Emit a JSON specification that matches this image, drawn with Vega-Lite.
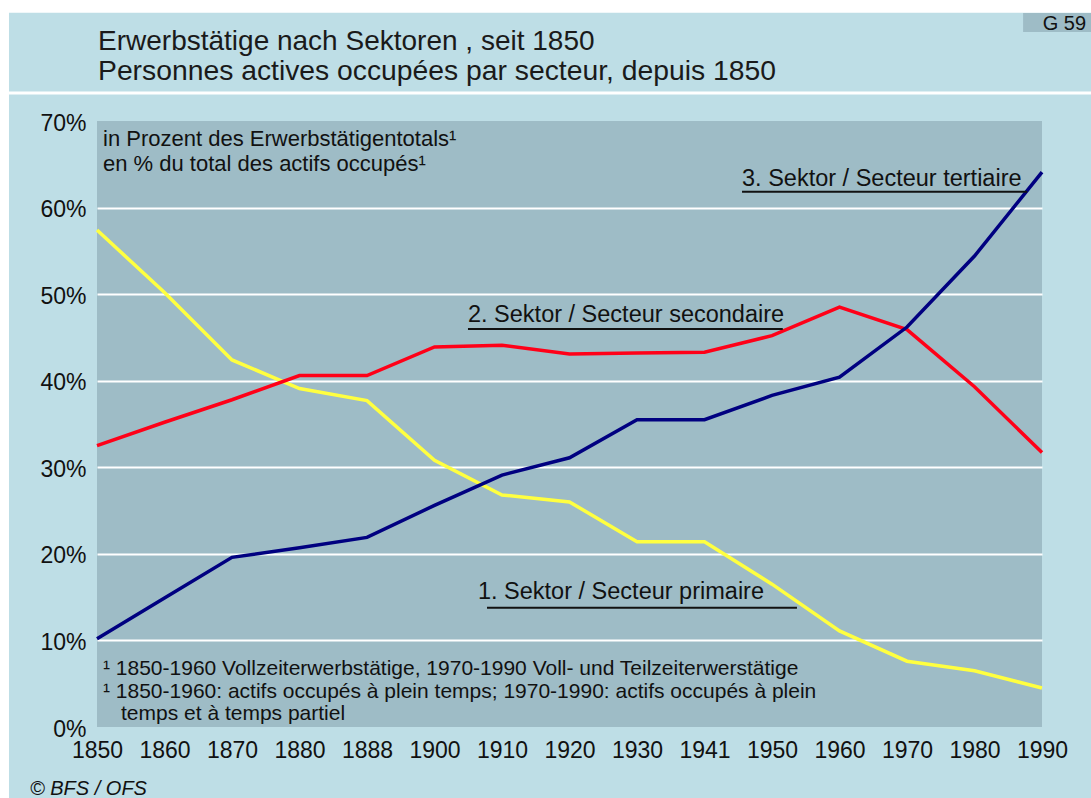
{
  "$schema": "https://vega.github.io/schema/vega-lite/v6.json",
  "autosize": "none",
  "width": 945,
  "height": 606,
  "padding": {"left": 97, "top": 121, "right": 49, "bottom": 71},
  "background": "#bedee6",
  "config": {
    "view": {"stroke": null, "fill": "#9ebcc6"},
    "font": "Liberation Sans"
  },
  "datasets": {
    "shares": [
      {"year": 1850, "primary": 57.4, "secondary": 32.5, "tertiary": 10.2},
      {"year": 1860, "primary": 50.2, "secondary": 35.2, "tertiary": 14.9},
      {"year": 1870, "primary": 42.4, "secondary": 37.8, "tertiary": 19.6},
      {"year": 1880, "primary": 39.1, "secondary": 40.6, "tertiary": 20.7},
      {"year": 1888, "primary": 37.7, "secondary": 40.6, "tertiary": 21.9},
      {"year": 1900, "primary": 30.8, "secondary": 43.9, "tertiary": 25.6},
      {"year": 1910, "primary": 26.8, "secondary": 44.1, "tertiary": 29.1},
      {"year": 1920, "primary": 26.0, "secondary": 43.1, "tertiary": 31.1},
      {"year": 1930, "primary": 21.4, "secondary": 43.2, "tertiary": 35.5},
      {"year": 1941, "primary": 21.4, "secondary": 43.3, "tertiary": 35.5},
      {"year": 1950, "primary": 16.5, "secondary": 45.2, "tertiary": 38.3},
      {"year": 1960, "primary": 11.1, "secondary": 48.5, "tertiary": 40.4},
      {"year": 1970, "primary": 7.6, "secondary": 45.9, "tertiary": 46.2},
      {"year": 1980, "primary": 6.5, "secondary": 39.3, "tertiary": 54.4},
      {"year": 1990, "primary": 4.5, "secondary": 31.7, "tertiary": 64.1}
    ],
    "one": [{}]
  },
  "layer": [
    {
      "data": {"name": "one"},
      "mark": {"type": "rect", "color": "#ffffff"},
      "encoding": {
        "x": {"datum": -0.6, "type": "quantitative"},
        "x2": {"datum": 15.9},
        "y": {"datum": 82.5, "type": "quantitative"},
        "y2": {"datum": 85}
      }
    },
    {
      "data": {"name": "one"},
      "mark": {"type": "rect", "color": "#ffffff"},
      "encoding": {
        "x": {"datum": -0.6, "type": "quantitative"},
        "x2": {"datum": -0.304},
        "y": {"datum": -10, "type": "quantitative"},
        "y2": {"datum": 85}
      }
    },
    {
      "data": {"name": "one"},
      "mark": {"type": "rule", "color": "#ffffff", "strokeWidth": 3},
      "encoding": {
        "x": {"datum": -0.304, "type": "quantitative"},
        "x2": {"datum": 15.9},
        "y": {"datum": 73.24, "type": "quantitative"}
      }
    },
    {
      "data": {"name": "one"},
      "mark": {"type": "rect", "color": "#9ebcc6"},
      "encoding": {
        "x": {"datum": 14.72, "type": "quantitative"},
        "x2": {"datum": 15.9},
        "y": {"datum": 80.28, "type": "quantitative"},
        "y2": {"datum": 82.48}
      }
    },
    {
      "data": {"name": "one"},
      "mark": {"type": "text", "text": "G 59", "align": "left", "baseline": "alphabetic", "fontSize": 20, "color": "#111111"},
      "encoding": {
        "x": {"datum": 15.01, "type": "quantitative"},
        "y": {"datum": 80.55, "type": "quantitative"}
      }
    },
    {
      "data": {"name": "one"},
      "mark": {"type": "text", "text": "Erwerbstätige nach Sektoren , seit 1850", "align": "left", "baseline": "alphabetic", "fontSize": 28, "color": "#1a1a1a"},
      "encoding": {
        "x": {"datum": 1.015, "type": "quantitative"},
        "y": {"datum": 78.2, "type": "quantitative"}
      }
    },
    {
      "data": {"name": "one"},
      "mark": {"type": "text", "text": "Personnes actives occupées par secteur, depuis 1850", "align": "left", "baseline": "alphabetic", "fontSize": 28.3, "color": "#1a1a1a"},
      "encoding": {
        "x": {"datum": 1.015, "type": "quantitative"},
        "y": {"datum": 74.74, "type": "quantitative"}
      }
    },
    {
      "data": {"name": "shares"},
      "transform": [
        {"window": [{"op": "row_number", "as": "pos"}], "sort": [{"field": "year"}]},
        {"fold": ["primary", "secondary", "tertiary"], "as": ["sector", "share"]}
      ],
      "mark": {"type": "line", "strokeWidth": 3.5, "clip": false},
      "encoding": {
        "x": {
          "field": "pos",
          "type": "quantitative",
          "scale": {"domain": [1, 15], "nice": false, "zero": false},
          "axis": {
            "values": [1,2,3,4,5,6,7,8,9,10,11,12,13,14,15],
            "labelExpr": "['1850','1860','1870','1880','1888','1900','1910','1920','1930','1941','1950','1960','1970','1980','1990'][datum.value - 1]",
            "title": null,
            "grid": false,
            "domain": false,
            "ticks": false,
            "labelFont": "Liberation Sans",
            "labelFontSize": 23,
            "labelColor": "#111111",
            "labelPadding": 12,
            "labelFlush": false,
            "labelOverlap": false
          }
        },
        "y": {
          "field": "share",
          "type": "quantitative",
          "scale": {"domain": [0, 70], "nice": false, "zero": true},
          "axis": {
            "values": [0,10,20,30,40,50,60,70],
            "labelExpr": "datum.value + '%'",
            "title": null,
            "domain": false,
            "ticks": false,
            "grid": true,
            "gridColor": {"condition": {"test": "datum.value === 0 || datum.value === 70", "value": "transparent"}, "value": "#ffffff"},
            "gridWidth": 2,
            "labelFont": "Liberation Sans",
            "labelFontSize": 23,
            "labelColor": "#111111",
            "labelPadding": 11,
            "labelOffset": 2,
            "labelFlush": false,
            "labelOverlap": false
          }
        },
        "color": {
          "field": "sector",
          "type": "nominal",
          "scale": {"domain": ["primary", "secondary", "tertiary"], "range": ["#ffff40", "#ff0018", "#000080"]},
          "legend": null
        }
      }
    },
    {
      "data": {"name": "one"},
      "mark": {"type": "text", "text": "3. Sektor / Secteur tertiaire", "align": "left", "baseline": "alphabetic", "fontSize": 23.5, "color": "#111111"},
      "encoding": {"x": {"datum": 10.556, "type": "quantitative"}, "y": {"datum": 62.49, "type": "quantitative"}}
    },
    {
      "data": {"name": "one"},
      "mark": {"type": "rule", "color": "#111111", "strokeWidth": 2},
      "encoding": {"x": {"datum": 10.556, "type": "quantitative"}, "x2": {"datum": 14.78}, "y": {"datum": 61.84, "type": "quantitative"}}
    },
    {
      "data": {"name": "one"},
      "mark": {"type": "text", "text": "2. Sektor / Secteur secondaire", "align": "left", "baseline": "alphabetic", "fontSize": 23.5, "color": "#111111"},
      "encoding": {"x": {"datum": 6.496, "type": "quantitative"}, "y": {"datum": 46.78, "type": "quantitative"}}
    },
    {
      "data": {"name": "one"},
      "mark": {"type": "rule", "color": "#111111", "strokeWidth": 2},
      "encoding": {"x": {"datum": 6.496, "type": "quantitative"}, "x2": {"datum": 11.16}, "y": {"datum": 45.97, "type": "quantitative"}}
    },
    {
      "data": {"name": "one"},
      "mark": {"type": "text", "text": "1. Sektor / Secteur primaire", "align": "left", "baseline": "alphabetic", "fontSize": 23.5, "color": "#111111"},
      "encoding": {"x": {"datum": 6.644, "type": "quantitative"}, "y": {"datum": 14.79, "type": "quantitative"}}
    },
    {
      "data": {"name": "one"},
      "mark": {"type": "rule", "color": "#111111", "strokeWidth": 2},
      "encoding": {"x": {"datum": 6.778, "type": "quantitative"}, "x2": {"datum": 11.37}, "y": {"datum": 13.78, "type": "quantitative"}}
    },
    {
      "data": {"name": "one"},
      "mark": {"type": "text", "text": "in Prozent des Erwerbstätigentotals¹", "align": "left", "baseline": "alphabetic", "fontSize": 22, "color": "#111111"},
      "encoding": {"x": {"datum": 1.089, "type": "quantitative"}, "y": {"datum": 67.08, "type": "quantitative"}}
    },
    {
      "data": {"name": "one"},
      "mark": {"type": "text", "text": "en % du total des actifs occupés¹", "align": "left", "baseline": "alphabetic", "fontSize": 22, "color": "#111111"},
      "encoding": {"x": {"datum": 1.089, "type": "quantitative"}, "y": {"datum": 64.19, "type": "quantitative"}}
    },
    {
      "data": {"name": "one"},
      "mark": {"type": "text", "text": "¹ 1850-1960 Vollzeiterwerbstätige, 1970-1990 Voll- und Teilzeiterwerstätige", "align": "left", "baseline": "alphabetic", "fontSize": 21, "color": "#111111"},
      "encoding": {"x": {"datum": 1.089, "type": "quantitative"}, "y": {"datum": 6.01, "type": "quantitative"}}
    },
    {
      "data": {"name": "one"},
      "mark": {"type": "text", "text": "¹ 1850-1960: actifs occupés à plein temps; 1970-1990: actifs occupés à plein", "align": "left", "baseline": "alphabetic", "fontSize": 21, "color": "#111111"},
      "encoding": {"x": {"datum": 1.089, "type": "quantitative"}, "y": {"datum": 3.35, "type": "quantitative"}}
    },
    {
      "data": {"name": "one"},
      "mark": {"type": "text", "text": "temps et à temps partiel", "align": "left", "baseline": "alphabetic", "fontSize": 21, "color": "#111111"},
      "encoding": {"x": {"datum": 1.356, "type": "quantitative"}, "y": {"datum": 0.81, "type": "quantitative"}}
    },
    {
      "data": {"name": "one"},
      "mark": {"type": "text", "text": "© BFS / OFS", "align": "left", "baseline": "alphabetic", "fontSize": 20, "fontStyle": "italic", "color": "#111111"},
      "encoding": {"x": {"datum": 0.007, "type": "quantitative"}, "y": {"datum": -7.85, "type": "quantitative"}}
    }
  ]
}
